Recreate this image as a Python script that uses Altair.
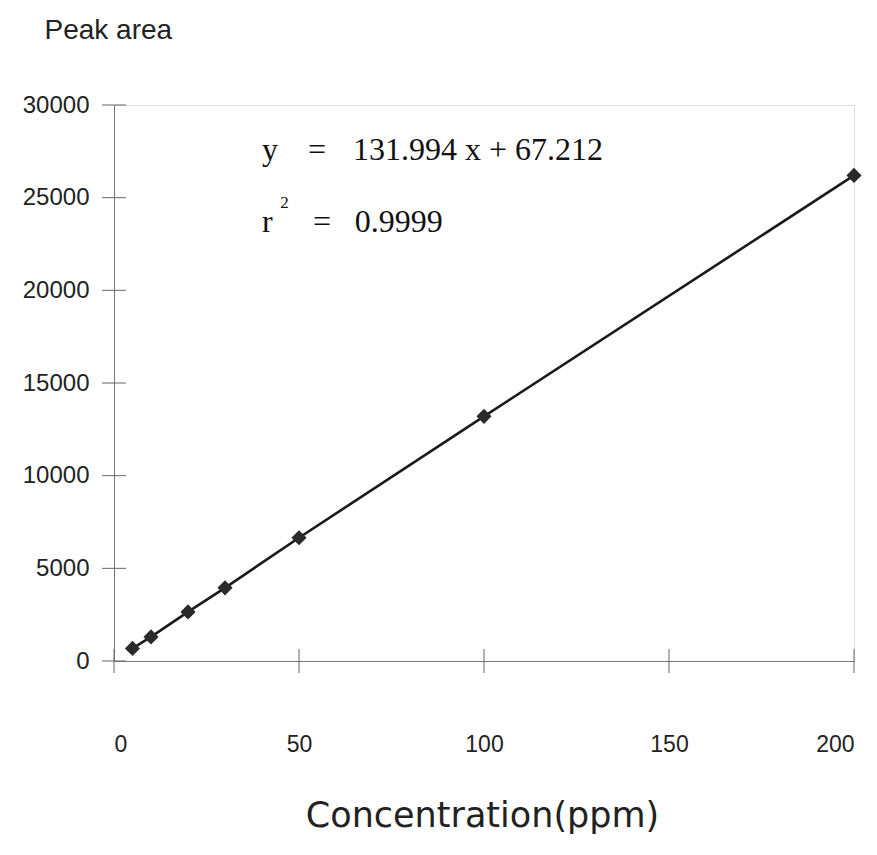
import altair as alt
import pandas as pd

# data
conc = [5, 10, 20, 30, 50, 100, 200]
area = [680, 1300, 2650, 3950, 6650, 13200, 26200]
x_ticks = [0, 50, 100, 150, 200]
y_ticks = [0, 5000, 10000, 15000, 20000, 25000, 30000]

ann_text = ["y", "=", "131.994 x + 67.212", "r", "2", "=", "0.9999"]
ann_x = [40.0, 52.4, 64.6, 40.0, 44.9, 53.8, 65.1]
ann_y = [27032, 27032, 27032, 23147, 24442, 23147, 23147]
ann_size = [32, 32, 32, 32, 17, 32, 32]

W, H = 740, 556
FONT = "Liberation Sans"
WIDE = "DejaVu Sans"
SERIF = "Liberation Serif"

pts = pd.DataFrame({"c": conc, "a": area})
xt = pd.DataFrame({"v": x_ticks})
yt = pd.DataFrame({"v": y_ticks})
ann = pd.DataFrame({"t": ann_text, "x": ann_x, "y": ann_y, "s": ann_size})

xs = alt.Scale(domain=[0, 200], nice=False, zero=True)
ys = alt.Scale(domain=[0, 30000], nice=False)

xaxis = alt.Axis(values=x_ticks, format="d", tickSize=0, labelPadding=72,
                 labelFont=FONT, labelFontSize=23, labelColor="#222",
                 domainColor="#777", domainWidth=1, grid=False,
                 title="Concentration(ppm)", titleFont=WIDE, titleFontSize=35,
                 titleFontWeight="normal", titleColor="#222",
                 titleX=368, titleY=154, titleAlign="center",
                 titleBaseline="middle")
yaxis = alt.Axis(values=y_ticks, format="d", tickSize=0, labelPadding=25,
                 labelFont=FONT, labelFontSize=24, labelColor="#222",
                 domainColor="#777", domainWidth=1, grid=False,
                 title="Peak  area", titleFont=FONT, titleFontSize=28,
                 titleFontWeight="normal", titleColor="#222", titleAngle=0,
                 titleAlign="left", titleBaseline="alphabetic",
                 titleX=-70, titleY=-67)

base = alt.Chart(pts)

line = base.mark_line(color="#1a1a1a", strokeWidth=2.6).encode(
    x=alt.X("c:Q", scale=xs, axis=xaxis),
    y=alt.Y("a:Q", scale=ys, axis=yaxis),
)
points = base.mark_point(shape="diamond", filled=True, size=230,
                         color="#2a2a2a", opacity=1).encode(
    x=alt.X("c:Q", scale=xs), y=alt.Y("a:Q", scale=ys))

xtick = alt.Chart(xt).mark_rule(color="#666", strokeWidth=1).encode(
    x=alt.X("v:Q", scale=xs), y=alt.value(H - 12), y2=alt.value(H + 12))
ytick = alt.Chart(yt).mark_rule(color="#666", strokeWidth=1).encode(
    y=alt.Y("v:Q", scale=ys), x=alt.value(-12), x2=alt.value(12))

text = alt.Chart(ann).mark_text(font=SERIF, align="left", baseline="alphabetic",
                                color="#111").encode(
    x=alt.X("x:Q", scale=xs), y=alt.Y("y:Q", scale=ys),
    text="t:N", size=alt.Size("s:Q", scale=None))

chart = alt.layer(xtick, ytick, line, points, text).properties(
    width=W, height=H,
    autosize=alt.AutoSizeParams(type="none"),
    padding={"left": 114, "top": 105, "right": 23, "bottom": 194},
).configure_view(stroke=None).configure(background="white")

chart.save("out.html", embed_options={"renderer": "svg", "actions": False})
